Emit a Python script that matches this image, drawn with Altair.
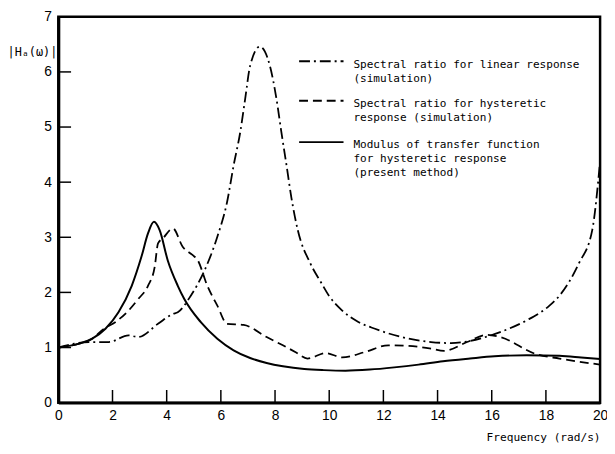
import altair as alt
import pandas as pd

# Modulus of transfer function for hysteretic response (present method)
mod_x = [0, 0.77, 1.25, 1.74, 2.22, 2.71, 3.07, 3.31, 3.53, 3.74, 4.04, 4.41, 4.65, 5.26, 5.87,
         6.47, 7.08, 7.69, 8.29, 9.08, 9.8, 10.6, 11.5, 12.4, 13.3, 14.2, 15.2, 16.1, 17.3, 18.5,
         19.3, 20]
mod_y = [1.0, 1.07, 1.16, 1.34, 1.64, 2.12, 2.65, 3.07, 3.28, 3.13, 2.58, 2.12, 1.88, 1.46, 1.16,
         0.95, 0.81, 0.72, 0.66, 0.61, 0.59, 0.58, 0.60, 0.64, 0.69, 0.75, 0.80, 0.84, 0.86, 0.85,
         0.82, 0.79]

# Spectral ratio for hysteretic response (simulation)
hys_x = [0, 0.77, 1.25, 1.68, 2.1, 2.59, 2.95, 3.31, 3.56, 3.68, 3.86, 4.23, 4.59, 4.95, 5.14,
         5.5, 5.87, 6.23, 6.84, 7.69, 8.29, 8.78, 9.2, 9.87, 10.48, 11.33, 12.18, 12.9,
         13.76, 14.24, 15.09, 15.82, 16.31, 17.64, 18.5, 20]
hys_y = [1.0, 1.07, 1.16, 1.34, 1.46, 1.67, 1.88, 2.12, 2.47, 2.89, 2.98, 3.16, 2.83, 2.68, 2.59,
         2.12, 1.76, 1.43, 1.41, 1.19, 1.04, 0.91, 0.80, 0.90, 0.82, 0.92, 1.04, 1.03,
         0.98, 0.94, 1.10, 1.23, 1.19, 0.88, 0.80, 0.69]

# Spectral ratio for linear response (simulation)
lin_x = [0, 1.13, 1.86, 2.59, 2.95, 3.68, 4.23, 4.41, 4.89, 5.38, 5.87, 6.23, 6.47, 6.72, 6.9,
         7.08, 7.44, 7.81, 8.05, 8.23, 8.42, 8.6, 8.84, 9.3, 9.7, 9.99, 10.48, 11.09, 11.69, 12.67,
         13.76, 14.5, 15.09, 16.31, 17.28, 18.13, 18.5, 19.22, 19.71, 20]
lin_y = [1.0, 1.10, 1.10, 1.22, 1.19, 1.43, 1.61, 1.64, 1.94, 2.38, 3.01, 3.64, 4.30, 4.92, 5.52,
         6.11, 6.46, 6.11, 5.52, 4.92, 4.32, 3.73, 3.13, 2.53, 2.18, 1.94, 1.67, 1.46, 1.34, 1.19,
         1.10, 1.08, 1.11, 1.28, 1.49, 1.76, 1.94, 2.53, 3.13, 4.38]

x_ticks = [0, 2, 4, 6, 8, 10, 12, 14, 16, 18, 20]
y_ticks = [0, 1, 2, 3, 4, 5, 6, 7]
inner_x_ticks = [2, 4, 6, 8, 10, 12, 14, 16, 18]
inner_y_ticks = [1, 2, 3, 4, 5, 6]

legend_labels = [
    "Spectral ratio for linear response\n(simulation)",
    "Spectral ratio for hysteretic\nresponse (simulation)",
    "Modulus of transfer function\nfor hysteretic response\n(present method)",
]

W, H = 549, 391
FONT = "DejaVu Sans Mono"
NUMFONT = "Liberation Sans"

xs = alt.Scale(domain=[0, 20], nice=False, zero=False)
ys = alt.Scale(domain=[0, 7], nice=False, zero=False)

x_axis = alt.Axis(values=x_ticks, format="d", tickSize=0, domainWidth=3, domainColor="black",
                  labelFont=NUMFONT, labelFontSize=14, labelColor="black", labelPadding=6,
                  labelFlush=False, grid=False, title="Frequency (rad/s)",
                  titleFont=FONT, titleFontSize=11.3, titleFontWeight="normal",
                  titleColor="black", titleX=W, titleY=38, titleAlign="right",
                  titleBaseline="alphabetic", titleAnchor="end")
y_axis = alt.Axis(values=y_ticks, format="d", tickSize=0, domainWidth=3, domainColor="black",
                  labelFont=NUMFONT, labelFontSize=14, labelColor="black", labelPadding=7,
                  labelFlush=False, grid=False, title="|Hₐ(ω)|",
                  titleFont=FONT, titleFontSize=12, titleFontWeight="normal",
                  titleColor="black", titleAngle=0, titleX=-52, titleY=39,
                  titleAlign="left", titleBaseline="alphabetic")


def curve(xv, yv, dash, width):
    df = pd.DataFrame({"x": xv, "y": yv})
    mk = dict(color="black", strokeWidth=width, interpolate="monotone")
    if dash:
        mk["strokeDash"] = dash
    return alt.Chart(df).mark_line(**mk).encode(
        x=alt.X("x:Q", scale=xs, axis=x_axis),
        y=alt.Y("y:Q", scale=ys, axis=y_axis),
    )


DASHDOT = [11, 4, 2, 4]
DASHED = [9, 5]

lin = curve(lin_x, lin_y, DASHDOT, 1.8)
hys = curve(hys_x, hys_y, DASHED, 1.8)
mod = curve(mod_x, mod_y, None, 2)

xt = alt.Chart(pd.DataFrame({"x": inner_x_ticks})).mark_rule(color="black", strokeWidth=1.5).encode(
    x=alt.X("x:Q", scale=xs, axis=x_axis),
    y=alt.datum(0, scale=ys), y2=alt.datum(0.23))
yt = alt.Chart(pd.DataFrame({"y": inner_y_ticks})).mark_rule(color="black", strokeWidth=1.5).encode(
    y=alt.Y("y:Q", scale=ys, axis=y_axis),
    x=alt.datum(0, scale=xs), x2=alt.datum(0.47))

# Legend
leg_rows = [(45, DASHDOT, 51.7), (85, DASHED, 91), (127, None, 132.7)]
legend_layers = []
for (ly, dash, ty), lab in zip(leg_rows, legend_labels):
    mk = dict(color="black", strokeWidth=2)
    if dash:
        mk["strokeDash"] = dash
    legend_layers.append(
        alt.Chart(pd.DataFrame({"a": [0]})).mark_rule(**mk).encode(
            x=alt.value(244), x2=alt.value(289), y=alt.value(ly)))
    legend_layers.append(
        alt.Chart(pd.DataFrame({"a": [0]})).mark_text(
            text=lab, lineBreak="\n", align="left", baseline="alphabetic",
            font=FONT, fontSize=11.2, color="black", lineHeight=14.5).encode(
            x=alt.value(299), y=alt.value(ty)))

chart = alt.layer(lin, hys, mod, xt, yt, *legend_layers).properties(
    width=W, height=H,
    padding={"left": 51, "top": 6, "right": 7, "bottom": 40},
    autosize=alt.AutoSizeParams(type="none"),
    background="white",
).configure_view(stroke="black", strokeWidth=2.5)

chart.save("out.html", embed_options={"renderer": "svg", "actions": False})
